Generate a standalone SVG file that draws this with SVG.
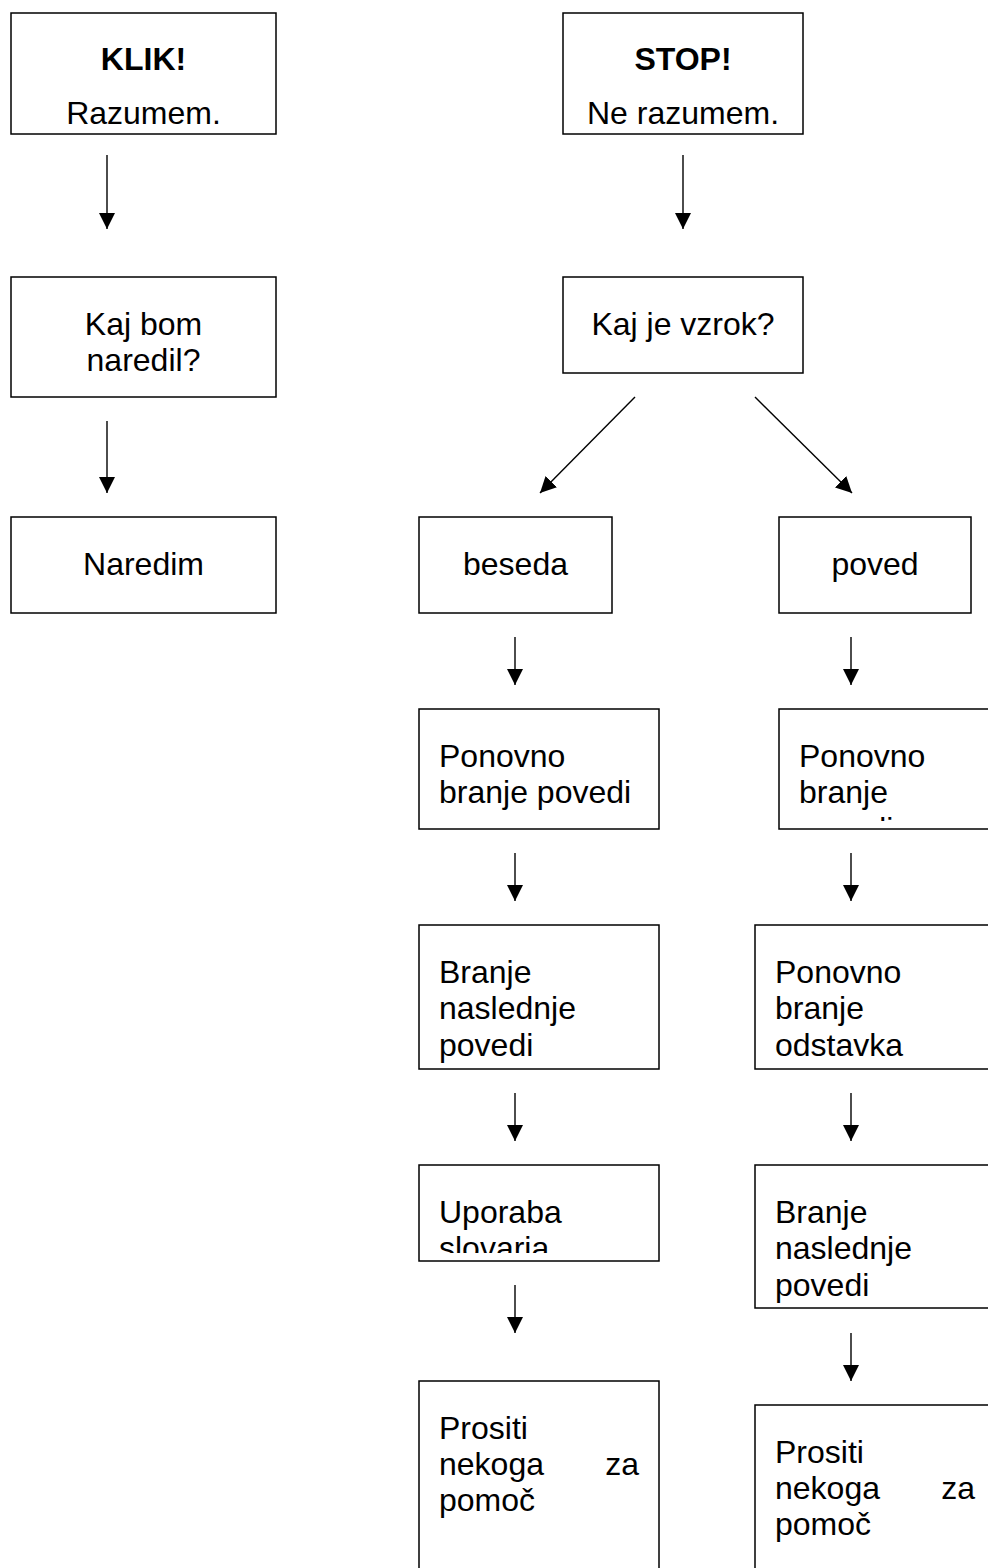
<svg xmlns="http://www.w3.org/2000/svg" width="988" height="1568" viewBox="0 0 988 1568">
<style>
.box{fill:#fff;stroke:#000;stroke-width:1.5}
.t{font-family:"Liberation Sans",Arial,sans-serif;font-size:32px;fill:#000}
.c{text-anchor:middle}
.b{font-weight:bold}
.r{text-anchor:end}
.ln{stroke:#000;stroke-width:1.4;fill:none}
</style>
<defs>
<marker id="ah" markerUnits="userSpaceOnUse" markerWidth="16" markerHeight="16" viewBox="0 0 16 16" refX="16" refY="8" orient="auto">
<path d="M0,0 L16,8 L0,16 Z" fill="#000"/>
</marker>
<clipPath id="clipA"><rect x="779" y="709" width="240" height="112"/></clipPath>
<clipPath id="clipB"><rect x="419" y="1165" width="240" height="88"/></clipPath>
</defs>
<g id="n-klik">
<rect class="box" x="11" y="13" width="265" height="121"/>
<text class="t c b" x="143.5" y="70">KLIK!</text>
<text class="t c" x="143.5" y="124">Razumem.</text>
</g>
<g id="n-stop">
<rect class="box" x="563" y="13" width="240" height="121"/>
<text class="t c b" x="683" y="70">STOP!</text>
<text class="t c" x="683" y="124">Ne razumem.</text>
</g>
<g id="n-kajbom">
<rect class="box" x="11" y="277" width="265" height="120"/>
<text class="t c" x="143.5" y="335">Kaj bom</text>
<text class="t c" x="143.5" y="371">naredil?</text>
</g>
<g id="n-naredim">
<rect class="box" x="11" y="517" width="265" height="96"/>
<text class="t c" x="143.5" y="575">Naredim</text>
</g>
<g id="n-vzrok">
<rect class="box" x="563" y="277" width="240" height="96"/>
<text class="t c" x="683" y="335">Kaj je vzrok?</text>
</g>
<g id="n-beseda">
<rect class="box" x="419" y="517" width="193" height="96"/>
<text class="t c" x="515.5" y="575">beseda</text>
</g>
<g id="n-poved">
<rect class="box" x="779" y="517" width="192" height="96"/>
<text class="t c" x="875" y="575">poved</text>
</g>
<g id="n-l1">
<rect class="box" x="419" y="709" width="240" height="120"/>
<text class="t" x="439" y="767">Ponovno</text>
<text class="t" x="439" y="803">branje povedi</text>
</g>
<g id="n-r1">
<rect class="box" x="779" y="709" width="240" height="120"/>
<g clip-path="url(#clipA)">
<text class="t" x="799" y="767">Ponovno</text>
<text class="t" x="799" y="803">branje</text>
<text class="t" x="799" y="840">povedi</text>
</g>
</g>
<g id="n-l2">
<rect class="box" x="419" y="925" width="240" height="144"/>
<text class="t" x="439" y="983">Branje</text>
<text class="t" x="439" y="1019">naslednje</text>
<text class="t" x="439" y="1056">povedi</text>
</g>
<g id="n-r2">
<rect class="box" x="755" y="925" width="240" height="144"/>
<text class="t" x="775" y="983">Ponovno</text>
<text class="t" x="775" y="1019">branje</text>
<text class="t" x="775" y="1056">odstavka</text>
</g>
<g id="n-l3">
<rect class="box" x="419" y="1165" width="240" height="96"/>
<g clip-path="url(#clipB)">
<text class="t" x="439" y="1223">Uporaba</text>
<text class="t" x="439" y="1259">slovarja</text>
</g>
</g>
<g id="n-r3">
<rect class="box" x="755" y="1165" width="240" height="143"/>
<text class="t" x="775" y="1223">Branje</text>
<text class="t" x="775" y="1259">naslednje</text>
<text class="t" x="775" y="1296">povedi</text>
</g>
<g id="n-l4">
<rect class="box" x="419" y="1381" width="240" height="200"/>
<text class="t" x="439" y="1439">Prositi</text>
<text class="t" x="439" y="1475">nekoga</text>
<text class="t r" x="639" y="1475">za</text>
<text class="t" x="439" y="1511">pomoč</text>
</g>
<g id="n-r4">
<rect class="box" x="755" y="1405" width="240" height="176"/>
<text class="t" x="775" y="1463">Prositi</text>
<text class="t" x="775" y="1499">nekoga</text>
<text class="t r" x="975" y="1499">za</text>
<text class="t" x="775" y="1535">pomoč</text>
</g>
<g id="connectors">
<line class="ln" x1="107" y1="155" x2="107" y2="229" marker-end="url(#ah)"/>
<line class="ln" x1="107" y1="421" x2="107" y2="493" marker-end="url(#ah)"/>
<line class="ln" x1="683" y1="155" x2="683" y2="229" marker-end="url(#ah)"/>
<line class="ln" x1="635" y1="397" x2="540" y2="493" marker-end="url(#ah)"/>
<line class="ln" x1="755" y1="397" x2="852" y2="493" marker-end="url(#ah)"/>
<line class="ln" x1="515" y1="637" x2="515" y2="685" marker-end="url(#ah)"/>
<line class="ln" x1="851" y1="637" x2="851" y2="685" marker-end="url(#ah)"/>
<line class="ln" x1="515" y1="853" x2="515" y2="901" marker-end="url(#ah)"/>
<line class="ln" x1="851" y1="853" x2="851" y2="901" marker-end="url(#ah)"/>
<line class="ln" x1="515" y1="1093" x2="515" y2="1141" marker-end="url(#ah)"/>
<line class="ln" x1="851" y1="1093" x2="851" y2="1141" marker-end="url(#ah)"/>
<line class="ln" x1="515" y1="1285" x2="515" y2="1333" marker-end="url(#ah)"/>
<line class="ln" x1="851" y1="1333" x2="851" y2="1381" marker-end="url(#ah)"/>
</g>
</svg>
